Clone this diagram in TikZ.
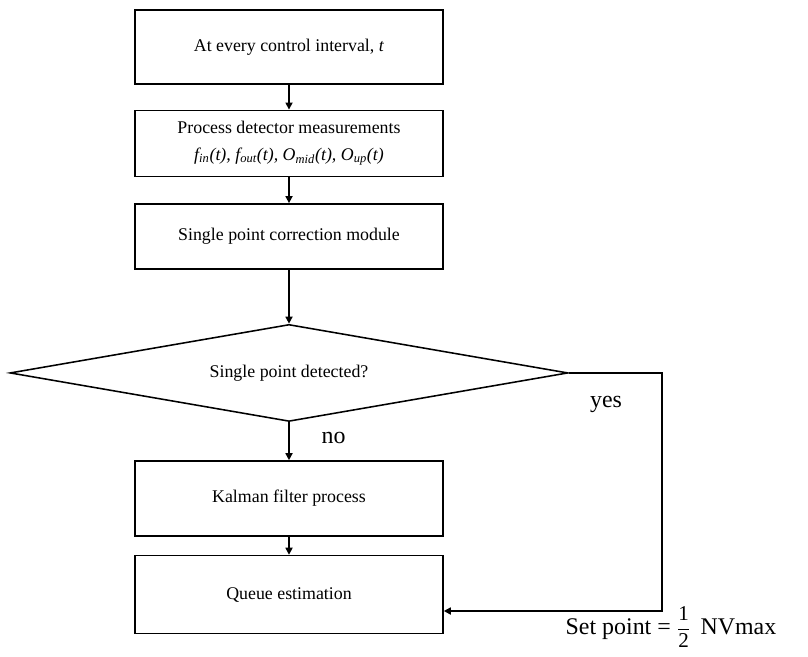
\documentclass[tikz,border=0pt]{standalone}
\usepackage{fontspec}
\setmainfont{Liberation Serif}
\usepackage{amsmath}
\usetikzlibrary{arrows.meta,positioning,shapes.geometric}
\tikzset{
  flowarrow/.style={->, line width=1.1pt, draw=black, >={Triangle[length=5pt,width=5pt]}},
  flowbox/.style={
    draw=black,
    line width=1.1pt,
    align=center,
    font=\fontsize{12.7}{19}\selectfont,
    minimum width=7.7cm,
    inner sep=2pt
  },
  flowdecision/.style={
    diamond,
    aspect=5.75,
    draw=black,
    line width=1.1pt,
    align=center,
    font=\fontsize{12.7}{19}\selectfont,
    minimum width=13.95cm,
    minimum height=2.425cm,
    inner sep=0pt
  },
  flowlabel/.style={font=\fontsize{17}{20}\selectfont, inner sep=1pt}
}

\begin{document}
\begin{tikzpicture}
  \useasboundingbox (0,0) rectangle (20.2,-16.425);
  \node[flowbox, minimum height=1.85cm] (t) at (7.225,-1.175) {At every control interval, \textit{t}};
  \node[flowbox, minimum height=1.65cm, below=0.62cm of t] (m) {Process detector measurements\\\textit{f\textsubscript{in}(t), f\textsubscript{out}(t), O\textsubscript{mid}(t), O\textsubscript{up}(t)}};
  \node[flowbox, minimum height=1.625cm, below=0.65cm of m] (c) {Single point correction module};
  \node[flowdecision, below=1.35cm of c] (d) {Single point detected?};
  \node[flowbox, minimum height=1.875cm, below=0.95cm of d] (k) {Kalman filter process};
  \node[flowbox, minimum height=1.95cm, below=0.45cm of k] (q) {Queue estimation};
  \coordinate (turn) at (16.55,-15.275);

  \node[flowlabel] (yes) at (15.15,-10.1) {yes};
  \node[flowlabel, anchor=west] (no) at (8.0,-10.95) {no};
  \node[flowlabel, anchor=base west] (sp) at (14.1,-15.85) {Set point = {\fontsize{15}{17}\selectfont$\dfrac{\text{1}}{\text{2}}$}\, NVmax};

  \draw[flowarrow] (t) -- (m);
  \draw[flowarrow] (m) -- (c);
  \draw[flowarrow] (c) -- (d);
  \draw[flowarrow] (d) -- (k);
  \draw[flowarrow] (k) -- (q);
  \draw[flowarrow] (d.east) -| (turn) -- (turn -| q.east);
\end{tikzpicture}
\end{document}
